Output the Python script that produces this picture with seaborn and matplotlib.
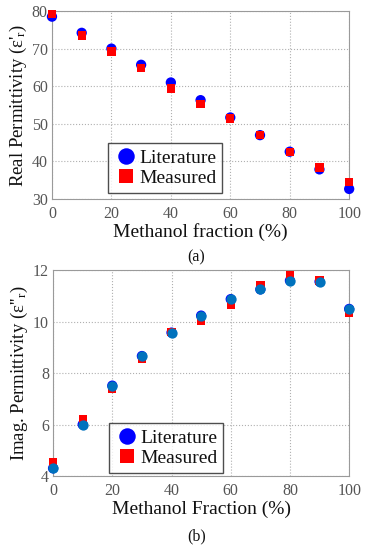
import seaborn as sns
import matplotlib.pyplot as plt
import pandas as pd

# methanol fraction (%)
fraction = [0, 10, 20, 30, 40, 50, 60, 70, 80, 90, 100]

# (a) real permittivity
real_lit = [78.5, 74.2, 70.0, 65.7, 61.0, 56.3, 51.7, 47.0, 42.6, 37.9, 32.7]
real_meas = [79.2, 73.5, 69.2, 64.8, 59.4, 55.3, 51.4, 47.1, 42.6, 38.4, 34.5]

# (b) imaginary permittivity
imag_lit = [4.30, 6.00, 7.51, 8.66, 9.57, 10.23, 10.87, 11.25, 11.59, 11.55, 10.49]
imag_meas = [4.52, 6.19, 7.38, 8.57, 9.60, 10.03, 10.65, 11.40, 11.80, 11.60, 10.35]

sources = ['Literature', 'Measured']


def make_df(lit, meas):
    return pd.DataFrame({
        'fraction': fraction + fraction,
        'value': lit + meas,
        'source': [sources[0]] * len(lit) + [sources[1]] * len(meas),
    })


sns.set_theme(style='white')
plt.rcParams['font.family'] = ['Liberation Serif', 'DejaVu Serif']
plt.rcParams['mathtext.fontset'] = 'custom'
plt.rcParams['mathtext.rm'] = 'Liberation Serif'
plt.rcParams['mathtext.it'] = 'Liberation Serif:italic'

fig = plt.figure(figsize=(3.66, 5.5), dpi=100)
ax1 = fig.add_axes([0.142, 0.638, 0.812, 0.342])
ax2 = fig.add_axes([0.145, 0.1345, 0.809, 0.3745])

palette = {'Literature': (0, 0, 1), 'Measured': (1, 0, 0)}
markers = {'Literature': 'o', 'Measured': 's'}
sizes = {'Literature': 55, 'Measured': 36}

df1 = make_df(real_lit, real_meas)
sns.scatterplot(data=df1, x='fraction', y='value', hue='source', style='source',
                size='source', sizes=sizes, palette=palette, markers=markers,
                linewidth=0, ax=ax1, clip_on=False, zorder=3)

df2 = make_df(imag_lit, imag_meas)
sns.scatterplot(data=df2, x='fraction', y='value', hue='source', style='source',
                size='source', sizes=sizes, palette=palette, markers=markers,
                linewidth=0, ax=ax2, clip_on=False, zorder=3)
# literature points redrawn on top in the MATLAB default blue
sns.scatterplot(x=fraction, y=imag_lit, color='#0072BD', marker='o', s=55,
                linewidth=0, ax=ax2, clip_on=False, zorder=4, legend=False)

for ax, ylim, yticks, ylabel, xlabel, tag, tag_y in [
    (ax1, (30, 80), range(30, 81, 10), "Real Permittivity (ε'$_\\mathregular{r}$)",
     'Methanol fraction (%)', '(a)', -0.31),
    (ax2, (4, 12), range(4, 13, 2), "Imag. Permittivity (ε''$_\\mathregular{r}$)",
     'Methanol Fraction (%)', '(b)', -0.295),
]:
    ax.set_xlim(0, 100)
    ax.set_ylim(*ylim)
    ax.set_xticks(range(0, 101, 20))
    ax.set_yticks(list(yticks))
    ax.grid(True, linestyle=':', color='#b0b0b0', linewidth=0.8)
    for s in ax.spines.values():
        s.set_color('#9a9a9a')
        s.set_linewidth(0.8)
    ax.tick_params(labelsize=11.5, colors='#555555', length=3, direction='in')
    ax.tick_params(axis='x', pad=5)
    ax.tick_params(axis='y', pad=3)
    ax.set_xlabel(xlabel, fontsize=14, labelpad=1, color='#111111')
    ax.set_ylabel(ylabel, fontsize=13.5, labelpad=2, color='#111111')
    ax.text(0.485, tag_y, tag, transform=ax.transAxes,
            ha='center', va='center', fontsize=11.5, color='#111111')

handles1, labels1 = ax1.get_legend_handles_labels()
handles2, labels2 = ax2.get_legend_handles_labels()
for ax, h, l, anchor in [(ax1, handles1, labels1, (0.189, 0.032)),
                         (ax2, handles2, labels2, (0.189, 0.015))]:
    leg = ax.legend(h, l, loc='lower left', bbox_to_anchor=anchor,
                    borderaxespad=0, fontsize=14, markerscale=1.6,
                    frameon=True, fancybox=False, handletextpad=0.1,
                    handlelength=1.2, borderpad=0.3, labelspacing=0.15)
    leg.get_frame().set_edgecolor('#222222')
    leg.get_frame().set_linewidth(1.0)
    for t in leg.get_texts():
        t.set_color('#111111')

fig.savefig('out.png', dpi=100)
